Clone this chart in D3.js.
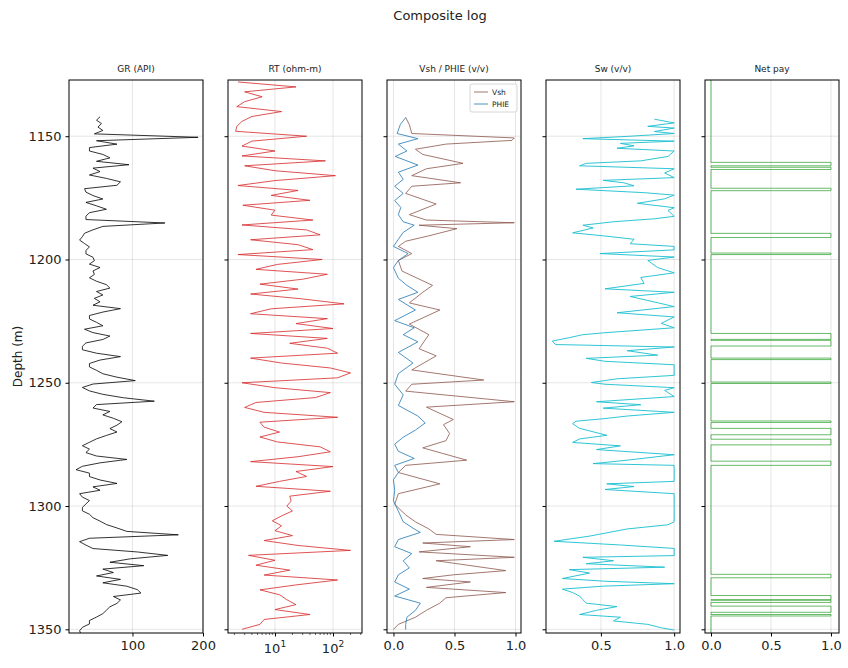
<!DOCTYPE html>
<html><head><meta charset="utf-8">
<script src="https://cdn.jsdelivr.net/npm/d3@7"></script>
<style>body{margin:0;background:#fff}svg text{font-family:"DejaVu Sans",sans-serif;fill:#222}</style>
</head><body><svg id="c" width="848" height="668"></svg>
<script>
// ---- data ----
const grStart = 1142.1, grStep = 1.39;
const grValues = [54,49,56,51,58,46,193,49,78,39,39,58,68,49,95,44,54,39,63,83,78,32,34,44,58,34,49,63,39,34,34,146,58,44,32,29,25,32,39,34,34,44,46,39,54,44,46,39,49,63,68,49,58,46,54,44,83,58,39,39,49,58,32,44,68,58,34,29,29,49,83,54,39,39,49,58,78,104,44,29,39,58,87,131,49,44,68,58,73,85,78,68,78,63,49,39,29,39,34,49,92,54,29,20,39,39,54,78,44,54,25,29,39,34,29,29,39,44,54,63,78,92,165,39,25,34,44,107,150,97,68,116,58,73,49,83,58,92,107,112,73,83,78,68,63,58,49,39,39,29,25,27];
const rtStart = 1128, rtStep = 2;
const rtValues = [2.3,23,3,6,3,2.2,13,4,2.7,2.2,2.1,35,4,2.7,10,2.7,74,3,10,110,10,2.3,25,8.6,40,2.8,10,8.6,45,2.7,35,60,3.8,25,45,2.3,65,11,4.7,80,30,5.5,25,3.8,30,155,8.6,3.8,80,23,100,3.8,80,18,80,120,3.8,13,90,200,120,2.7,10,90,50,4.7,3,6.5,120,5.5,6.5,12,5.5,11,60,90,25,3.8,100,23,35,12,4.7,90,18,19,16,20,13,9,13,10,20,6.5,25,200,3.5,10,4.7,18,6.5,120,23,5.5,12,16,23,10,40,6.5,5.5,2.7];
const vsh = [[1142.4,.10],[1145.3,.13],[1148.9,.15],[1150.7,.99],[1151.7,.97],[1153.2,.43],[1155.3,.18],[1157.4,.24],[1161.0,.57],[1163.2,.27],[1166.0,.15],[1168.9,.55],[1170.3,.15],[1173.2,.10],[1177.5,.35],[1181.8,.13],[1184.0,.27],[1185.1,.99],[1186.1,.21],[1187.5,.52],[1190.4,.29],[1192.6,.10],[1194.7,.04],[1197.6,.15],[1200.4,.04],[1204.7,.07],[1210.5,.32],[1213.3,.24],[1217.6,.13],[1220.5,.38],[1226.2,.13],[1230.5,.29],[1236.2,.21],[1239.1,.35],[1244.8,.15],[1248.9,.74],[1250.6,.15],[1253.4,.10],[1257.7,.99],[1259.9,.27],[1264.9,.49],[1267.0,.41],[1270.6,.46],[1273.5,.43],[1276.4,.24],[1281.4,.60],[1283.5,.10],[1286.4,.04],[1291.0,.38],[1295.0,.04],[1299.3,.01],[1303.6,.10],[1306.4,.18],[1309.3,.29],[1311.5,.35],[1313.6,.99],[1315.0,.24],[1316.5,.63],[1318.6,.21],[1320.8,.99],[1322.2,.35],[1323.6,.55],[1326.2,.92],[1327.9,.49],[1329.4,.24],[1330.8,.63],[1333.0,.27],[1335.1,.92],[1337.2,.43],[1339.4,.38],[1342.3,.27],[1345.1,.18],[1348.0,.04],[1350.1,.0]];
const phie = [[1142.4,.10],[1145.3,.056],[1148.9,.03],[1151.0,.2],[1153.2,.04],[1156.0,.11],[1158.2,.014],[1161.7,.2],[1164.6,.04],[1167.5,.08],[1170.3,.01],[1173.2,.08],[1176.1,.01],[1178.9,.06],[1181.8,.04],[1184.7,.08],[1186.1,.17],[1189.0,.08],[1191.8,.04],[1194.7,0],[1197.6,.12],[1200.4,.04],[1203.3,0],[1207.6,.04],[1210.5,.11],[1213.3,.2],[1216.2,.04],[1220.5,.18],[1224.8,.01],[1227.7,.17],[1230.5,.08],[1233.4,.2],[1237.7,.04],[1242.0,.16],[1246.3,.04],[1250.6,.01],[1254.9,.08],[1259.2,.04],[1263.5,.2],[1266.3,.26],[1269.2,.18],[1272.1,.08],[1274.9,.01],[1277.8,.04],[1280.7,.17],[1283.5,.01],[1286.4,.04],[1289.3,0],[1293.6,.01],[1297.9,0],[1302.1,.04],[1306.4,.08],[1309.3,.17],[1310.7,.22],[1313.6,.04],[1316.5,.01],[1319.3,.15],[1322.2,.08],[1325.1,.13],[1327.9,.04],[1330.8,.01],[1333.7,.13],[1336.5,.01],[1339.4,.22],[1342.3,.18],[1345.1,.11],[1348.0,.10],[1350.1,.10]];
const sw = [[1143.1,.865],[1144.6,1],[1146.0,.82],[1146.7,1],[1148.1,.865],[1148.9,1],[1150.0,.70],[1151.0,.377],[1152.0,1],[1152.9,.633],[1153.9,.726],[1154.9,.61],[1156.0,1],[1158.2,.958],[1160.0,.772],[1161.0,.40],[1162.0,.354],[1163.2,1],[1164.9,.935],[1166.8,1],[1167.9,.516],[1168.9,.656],[1170.1,.726],[1171.5,.33],[1172.9,.795],[1173.9,1],[1175.4,.935],[1177.2,.749],[1179.0,1],[1180.1,.958],[1182.5,1],[1183.5,.865],[1184.7,.586],[1186.1,.377],[1187.2,.447],[1189.2,.307],[1190.4,.516],[1191.8,.726],[1193.6,.70],[1194.7,1],[1196.1,1],[1197.6,.493],[1199.0,1],[1200.4,.82],[1203.3,.888],[1205.4,1],[1207.3,.772],[1209.7,.795],[1211.9,.528],[1213.3,1],[1215.0,.70],[1219.1,1],[1221.6,.61],[1223.3,1],[1225.9,.912],[1227.7,1],[1229.7,.528],[1230.5,.377],[1231.7,.284],[1233.1,.168],[1234.5,.19],[1235.5,1],[1237.0,.679],[1238.8,.888],[1240.1,.40],[1241.3,.528],[1242.7,1],[1247.0,1],[1248.4,.61],[1249.9,.435],[1250.6,.528],[1252.0,1],[1253.1,.935],[1255.6,1],[1257.7,.47],[1258.9,.772],[1260.3,.516],[1262.0,1],[1263.5,.679],[1264.6,.516],[1265.6,.33],[1266.6,.307],[1268.5,.354],[1269.9,.447],[1271.3,.54],[1272.8,.354],[1274.2,.307],[1275.6,.633],[1277.1,.47],[1279.2,1],[1281.4,.679],[1282.8,.447],[1283.5,1],[1290.0,1],[1291.0,.54],[1292.1,.726],[1293.3,.528],[1295.0,1],[1306.4,1],[1307.6,.958],[1309.3,.679],[1312.2,.423],[1314.3,.18],[1315.8,.633],[1317.2,1],[1320.1,1],[1320.8,.377],[1322.2,.586],[1323.4,.40],[1324.8,.935],[1325.8,.284],[1327.2,.423],[1329.4,.237],[1330.5,.528],[1331.5,1],[1332.5,.516],[1333.7,.237],[1335.1,.307],[1336.5,.354],[1338.0,.377],[1339.4,.40],[1340.8,.61],[1342.3,.47],[1344.0,.354],[1345.1,.633],[1346.6,.586],[1348.0,.82],[1349.4,.912],[1350.3,1]];
const payIntervals = [[1160.6,1162.0],[1162.6,1163.5],[1171.1,1172.1],[1189.4,1191.1],[1197.4,1198.0],[1230.0,1232.4],[1232.8,1235.1],[1240.0,1240.6],[1249.7,1250.3],[1265.5,1266.1],[1268.5,1271.1],[1272.9,1275.2],[1281.8,1283.5],[1327.7,1329.1],[1336.3,1338.0],[1338.2,1339.1],[1340.6,1343.1],[1344.0,1344.6]];
const depthTicks = [1150,1200,1250,1300,1350];
const titles = ["GR (API)","RT (ohm-m)","Vsh / PHIE (v/v)","Sw (v/v)","Net pay"];

// ---- layout ----
const svg = d3.select("#c");
const yTop = 80, yBot = 633, pw = 134, lefts = [69,228,387,546,705];
const y = d3.scaleLinear().domain([1127.2,1351.5]).range([yTop,yBot]);
svg.append("text").attr("x",440).attr("y",20).attr("text-anchor","middle").style("font-size","13px").text("Composite log");
svg.append("text").attr("transform","translate(22,"+((yTop+yBot)/2)+") rotate(-90)").attr("text-anchor","middle").style("font-size","12px").text("Depth (m)");

const xs = [
  d3.scaleLinear().domain([10,200]),
  d3.scaleLog().domain([1.55,316]),
  d3.scaleLinear().domain([-0.053,1.045]),
  d3.scaleLinear().domain([0.125,1.04]),
  d3.scaleLinear().domain([-0.05,1.067])
];
const xticks = [[100,200],[10,100],[0,0.5,1],[0.5,1],[0,0.5,1]];
const panels = [];
xs.forEach((x,i)=>{
  x.range([0,pw]);
  const g = svg.append("g").attr("transform",`translate(${lefts[i]},0)`);
  panels.push(g);
  g.append("clipPath").attr("id","clip"+i).append("rect").attr("x",0).attr("y",yTop).attr("width",pw).attr("height",yBot-yTop);
  g.selectAll(".gx").data(xticks[i]).join("line").attr("x1",d=>x(d)).attr("x2",d=>x(d)).attr("y1",yTop).attr("y2",yBot).attr("stroke","#b0b0b0").attr("stroke-opacity",0.4).attr("stroke-width",0.8);
  g.selectAll(".gy").data(depthTicks).join("line").attr("x1",0).attr("x2",pw).attr("y1",d=>y(d)).attr("y2",d=>y(d)).attr("stroke","#b0b0b0").attr("stroke-opacity",0.4).attr("stroke-width",0.8);
  let ax = d3.axisBottom(x).tickValues(xticks[i]).tickSize(3.5).tickPadding(4);
  if(i===1) ax = ax.tickFormat(d=>"");
  else if(i===0) ax = ax.tickFormat(d3.format("d"));
  else ax = ax.tickFormat(d3.format(".1f"));
  const axg = g.append("g").attr("transform",`translate(0,${yBot})`).call(ax);
  axg.select(".domain").remove();
  axg.selectAll("text").style("font-size","13px").attr("fill","#222");
  if(i===1){
    const minor=[]; [1,10,100].forEach(b=>{for(let k=2;k<10;k++){const v=b*k; if(v>1.55&&v<316) minor.push(v);}});
    g.selectAll(".mn").data(minor).join("line").attr("x1",d=>x(d)).attr("x2",d=>x(d)).attr("y1",yBot).attr("y2",yBot+2).attr("stroke","#000").attr("stroke-width",0.6);
    [[10,"1"],[100,"2"]].forEach(([v,e])=>{
      const t=g.append("text").attr("x",x(v)).attr("y",yBot+20).attr("text-anchor","middle").style("font-size","13px");
      t.append("tspan").text("10"); t.append("tspan").attr("dy",-6).style("font-size","9px").text(e);
    });
  }
  const ay = d3.axisLeft(y).tickValues(depthTicks).tickSize(3.5).tickPadding(4).tickFormat(i===0?d3.format("d"):"");
  const ayg = g.append("g").call(ay); ayg.select(".domain").remove();
  ayg.selectAll("text").style("font-size","13px").attr("fill","#222");
  g.append("g").attr("class","curves");
  g.append("rect").attr("x",0).attr("y",yTop).attr("width",pw).attr("height",yBot-yTop).attr("fill","none").attr("stroke","#000").attr("stroke-width",1);
  g.append("text").attr("x",pw/2).attr("y",yTop-8).attr("text-anchor","middle").style("font-size","9px").text(titles[i]);
});
function draw(i,pts,color,w,op){
  const x = xs[i];
  const line = d3.line().x(d=>x(d[1])).y(d=>y(d[0]));
  panels[i].select(".curves").append("path").attr("clip-path",`url(#clip${i})`).datum(pts).attr("d",line).attr("fill","none").attr("stroke",color).attr("stroke-width",w).attr("stroke-opacity",op||1);
}
draw(0, grValues.map((v,k)=>[grStart+k*grStep,v]), "#000", 0.8);
draw(1, rtValues.map((v,k)=>[rtStart+k*rtStep,v]), "#d62728", 0.8);
draw(2, vsh, "#8c564b", 0.8);
draw(2, phie, "#1f77b4", 0.8);
draw(3, sw, "#17becf", 0.9);
const payPts=[[1127.2,0]];
payIntervals.forEach(([a,b])=>{payPts.push([a,0],[a,1],[b,1],[b,0]);});
payPts.push([1351.5,0]);
draw(4, payPts, "#2ca02c", 0.9, 0.8);
const lg = panels[2].append("g").attr("transform","translate(83,84)");
lg.append("rect").attr("width",47).attr("height",28).attr("rx",2).attr("fill","#fff").attr("fill-opacity",0.8).attr("stroke","#ccc").attr("stroke-width",0.8);
[["Vsh","#8c564b"],["PHIE","#1f77b4"]].forEach(([t,c],k)=>{
  lg.append("line").attr("x1",4).attr("x2",18).attr("y1",8+k*12).attr("y2",8+k*12).attr("stroke",c).attr("stroke-width",0.8);
  lg.append("text").attr("x",22).attr("y",11+k*12).style("font-size","7.5px").text(t);
});
</script></body></html>
